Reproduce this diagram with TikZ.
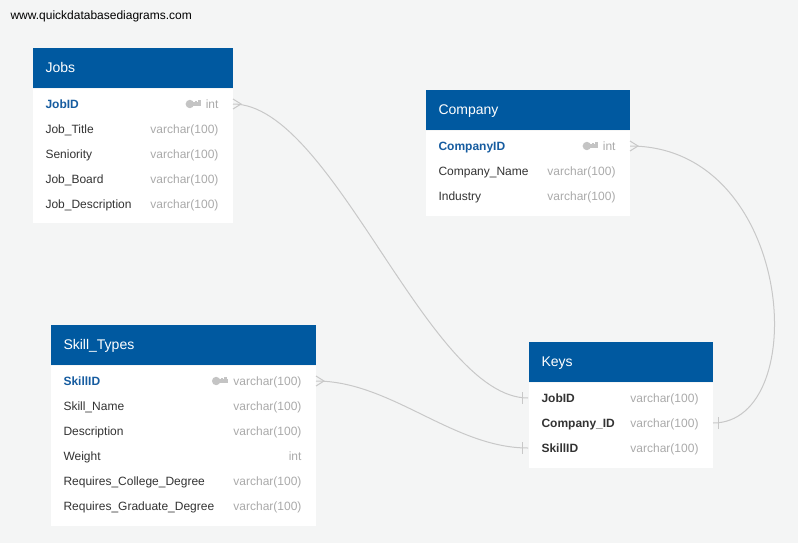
\documentclass[tikz,border=0pt]{standalone}
\usepackage{fontspec}
\setmainfont{Liberation Sans}
\usepackage{tikz}
\definecolor{mybg}{RGB}{244,245,245}
\definecolor{myheadblue}{RGB}{0,89,160}
\definecolor{mykeyblue}{RGB}{22,92,160}
\definecolor{mytext}{RGB}{51,51,51}
\definecolor{mytype}{RGB}{170,170,170}
\definecolor{mykeygrey}{RGB}{196,196,196}
\definecolor{myline}{RGB}{200,200,200}
\tikzset{every picture/.style={line width=0.75pt}}
\tikzset{
  tablebody/.style={fill=white, inner sep=0pt, anchor=north west},
  tablehead/.style={fill=myheadblue, text=white, anchor=south west, minimum height=30pt,
    inner xsep=9.75pt, inner ysep=0pt, align=left, font=\fontsize{10.5}{12}\selectfont,
    text height=7.6pt, text depth=0pt},
  fieldname/.style={anchor=west, inner sep=0pt, text=mytext, font=\fontsize{9}{11}\selectfont,
    text height=6.5pt, text depth=0pt},
  pkname/.style={fieldname, text=mykeyblue, font=\fontsize{9}{11}\selectfont\bfseries},
  fkname/.style={fieldname, font=\fontsize{9}{11}\selectfont\bfseries},
  fieldtype/.style={anchor=east, inner sep=0pt, text=mytype, font=\fontsize{9}{11}\selectfont,
    text height=6.5pt, text depth=0pt},
  relline/.style={color=myline, line width=0.75pt},
  keyicon/.pic={
    \fill[mykeygrey] (-11.5,0) circle (4.2);
    \fill[mykeygrey] (-9,-1.8) rectangle (0,1.8);
    \fill[mykeygrey] (-3.2,1.8) rectangle (-0.6,4);
    \fill[mykeygrey] (-6.4,1.8) rectangle (-4.6,3.4);
  }
}

\begin{document}
\begin{tikzpicture}[x=0.75pt,y=0.75pt,yscale=-1,xscale=1]
%Background
\fill[mybg] (0,0) rectangle (798,543);
\useasboundingbox (0,0) rectangle (798,543);
\node[anchor=west, inner sep=0pt, font=\fontsize{9}{11}\selectfont, text height=6.5pt, text depth=1.8pt] (site) at (10,16) {www.quickdatabasediagrams.com};

%Table: Jobs
\node[tablebody, minimum width=150pt, minimum height=100.5pt] (jobs) at (32,88) {};
\node[tablehead, text width=130.5pt] (jobshead) at (jobs.north west) {Jobs};
\node[pkname] (jobsJobID) at (45,104) {JobID};
\node[fieldname] (jobsJobTitle) at (45,129) {Job\_Title};
\node[fieldname] (jobsSeniority) at (45,154) {Seniority};
\node[fieldname] (jobsJobBoard) at (45,179) {Job\_Board};
\node[fieldname] (jobsJobDescription) at (45,204) {Job\_Description};
\node[fieldtype] (jobsJobIDtype) at (219,104) {int};
\node[fieldtype] (jobsJobTitletype) at (219,129) {varchar(100)};
\node[fieldtype] (jobsSenioritytype) at (219,154) {varchar(100)};
\node[fieldtype] (jobsJobBoardtype) at (219,179) {varchar(100)};
\node[fieldtype] (jobsJobDescriptiontype) at (219,204) {varchar(100)};
\pic at ([xshift=-3pt]jobsJobIDtype.west) {keyicon};

%Table: Company
\node[tablebody, minimum width=153pt, minimum height=63.75pt] (company) at (425,130) {};
\node[tablehead, text width=133.5pt] (companyhead) at (company.north west) {Company};
\node[pkname] (companyCompanyID) at (438,146) {CompanyID};
\node[fieldname] (companyCompanyName) at (438,171) {Company\_Name};
\node[fieldname] (companyIndustry) at (438,196) {Industry};
\node[fieldtype] (companyCompanyIDtype) at (616,146) {int};
\node[fieldtype] (companyCompanyNametype) at (616,171) {varchar(100)};
\node[fieldtype] (companyIndustrytype) at (616,196) {varchar(100)};
\pic at ([xshift=-3pt]companyCompanyIDtype.west) {keyicon};

%Table: Skill_Types
\node[tablebody, minimum width=198.75pt, minimum height=120pt] (skills) at (50,365) {};
\node[tablehead, text width=179.25pt] (skillshead) at (skills.north west) {Skill\_Types};
\node[pkname] (skillsSkillID) at (63,381) {SkillID};
\node[fieldname] (skillsSkillName) at (63,406) {Skill\_Name};
\node[fieldname] (skillsDescription) at (63,431) {Description};
\node[fieldname] (skillsWeight) at (63,456) {Weight};
\node[fieldname] (skillsCollege) at (63,481) {Requires\_College\_Degree};
\node[fieldname] (skillsGraduate) at (63,506) {Requires\_Graduate\_Degree};
\node[fieldtype] (skillsSkillIDtype) at (302,381) {varchar(100)};
\node[fieldtype] (skillsSkillNametype) at (302,406) {varchar(100)};
\node[fieldtype] (skillsDescriptiontype) at (302,431) {varchar(100)};
\node[fieldtype] (skillsWeighttype) at (302,456) {int};
\node[fieldtype] (skillsCollegetype) at (302,481) {varchar(100)};
\node[fieldtype] (skillsGraduatetype) at (302,506) {varchar(100)};
\pic at ([xshift=-4pt]skillsSkillIDtype.west) {keyicon};

%Table: Keys
\node[tablebody, minimum width=138pt, minimum height=63.75pt] (keys) at (528,382) {};
\node[tablehead, text width=118.5pt] (keyshead) at (keys.north west) {Keys};
\node[fkname] (keysJobID) at (541,398) {JobID};
\node[fkname] (keysCompanyID) at (541,423) {Company\_ID};
\node[fkname] (keysSkillID) at (541,448) {SkillID};
\node[fieldtype] (keysJobIDtype) at (699,398) {varchar(100)};
\node[fieldtype] (keysCompanyIDtype) at (699,423) {varchar(100)};
\node[fieldtype] (keysSkillIDtype) at (699,448) {varchar(100)};

%Curve Lines
\draw[relline] (jobs.east |- jobsJobID) .. controls +(100,0) and +(-100,0) .. (keys.west |- keysJobID);
\draw[relline] (skills.east |- skillsSkillID) .. controls +(75,0) and +(-75,0) .. (keys.west |- keysSkillID);
\draw[relline] (company.east |- companyCompanyID) .. controls +(165,0) and +(100,0) .. (keys.east |- keysCompanyID);
%Straight Lines
\draw[relline] (jobs.east |- jobsJobID) ++(0,-5) -- ++(8,5) -- ++(-8,5);
\draw[relline] (company.east |- companyCompanyID) ++(0,-5) -- ++(8,5) -- ++(-8,5);
\draw[relline] (skills.east |- skillsSkillID) ++(0,-5) -- ++(8,5) -- ++(-8,5);
\draw[relline] (keys.west |- keysJobID) ++(-6,-6) -- ++(0,12);
\draw[relline] (keys.west |- keysSkillID) ++(-6,-6) -- ++(0,12);
\draw[relline] (keys.east |- keysCompanyID) ++(5,-6) -- ++(0,12);
\end{tikzpicture}
\end{document}
